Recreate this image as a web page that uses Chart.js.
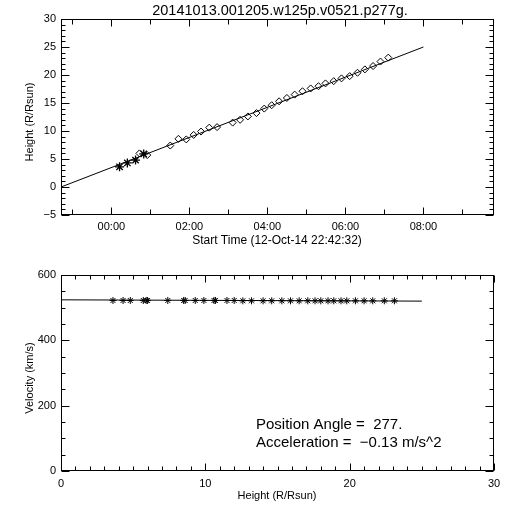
<!DOCTYPE html>
<html><head><meta charset="utf-8">
<script src="https://cdn.jsdelivr.net/npm/chart.js@4.4.1/dist/chart.umd.min.js"></script>
<style>html,body{margin:0;padding:0;background:#fff;}canvas{display:block;background:#fff;}</style>
</head><body>
<canvas id="topChart" width="512" height="256"></canvas>
<canvas id="botChart" width="512" height="256"></canvas>
<script>
// ---------- data ----------
const plotTitle = '20141013.001205.w125p.v0521.p277g.';
const startTimeLabel = 'Start Time (12-Oct-14 22:42:32)';
const heightLabel = 'Height (R/Rsun)';
const velocityLabel = 'Velocity (km/s)';
const positionAngleText = 'Position Angle =  277.';
const accelerationText = 'Acceleration =  \u22120.13 m/s^2';

// hours relative to 13-Oct 00:00
const timeTickValues = [0, 2, 4, 6, 8];
const timeTickLabels = ['00:00', '02:00', '04:00', '06:00', '08:00'];
const heightTickValues = [-5, 0, 5, 10, 15, 20, 25, 30];
const velTickValues = [0, 200, 400, 600];
const radiusTickValues = [0, 10, 20, 30];

// C2 (asterisks)
const c2Times = [0.21, 0.41, 0.62, 0.83];
const c2Heights = [3.6, 4.3, 4.8, 5.9];
// C3 (diamonds)
const c3Times = [0.72, 0.92, 1.51, 1.72, 1.92, 2.11, 2.30, 2.51, 2.71, 3.11, 3.30, 3.50, 3.72, 3.92, 4.11,
                 4.30, 4.50, 4.70, 4.90, 5.11, 5.31, 5.49, 5.70, 5.90, 6.11, 6.31, 6.50, 6.71, 6.90, 7.10];
const c3Heights = [6.0, 5.7, 7.4, 8.6, 8.5, 9.3, 9.9, 10.6, 10.7, 11.5, 12.0, 12.6, 13.2, 14.0, 14.6,
                   15.3, 15.9, 16.5, 17.1, 17.6, 18.0, 18.5, 18.9, 19.4, 19.8, 20.4, 21.0, 21.6, 22.4, 23.1];
// height-time fit
const fitTimes = [-1.29, 8.0];
const fitHeights = [0.0, 25.0];

// velocity at each height
const velValues = [522, 522, 522, 522,
                   522, 522, 522, 522, 522, 522, 522, 522, 522, 522, 522, 521, 521, 521, 521,
                   521, 521, 521, 521, 521, 521, 521, 521, 521, 521, 521, 521, 521, 521, 521];
const velFitHeights = [0, 25];
const velFitValues = [524, 520];

// ---------- helpers ----------
const FONT = "'Liberation Sans', Arial, sans-serif";
const pts = (xs, ys) => xs.map((x, i) => ({x: x, y: ys[i]}));
const allHeights = c2Heights.concat(c3Heights);

function tickList(from, to, step, majorEvery, majLen, minLen) {
  const out = [];
  const n = Math.round((to - from) / step);
  for (let i = 0; i <= n; i++) {
    const v = from + i * step;
    const isMajor = Math.abs(v / majorEvery - Math.round(v / majorEvery)) < 1e-6;
    out.push([v, isMajor ? majLen : minLen]);
  }
  return out;
}

const idlPlugin = {
  id: 'idl',
  afterDraw(chart, args, opts) {
    const ctx = chart.ctx, a = chart.chartArea;
    const xs = chart.scales.x, ys = chart.scales.y;
    ctx.save();
    ctx.strokeStyle = '#000';
    ctx.lineWidth = 1;
    const L = Math.round(a.left) + 0.5, R = Math.round(a.right) - 0.5;
    const T = Math.round(a.top) + 0.5, B = Math.round(a.bottom) - 0.5;
    ctx.strokeRect(L, T, R - L, B - T);
    ctx.beginPath();
    opts.xTicks.forEach(([v, len]) => {
      if (v < xs.min - 1e-9 || v > xs.max + 1e-9) return;
      const px = Math.round(xs.getPixelForValue(v)) + 0.5;
      ctx.moveTo(px, B); ctx.lineTo(px, B - len);
      ctx.moveTo(px, T); ctx.lineTo(px, T + len);
    });
    opts.yTicks.forEach(([v, len]) => {
      if (v < ys.min - 1e-9 || v > ys.max + 1e-9) return;
      const py = Math.round(ys.getPixelForValue(v)) + 0.5;
      ctx.moveTo(L, py); ctx.lineTo(L + len, py);
      ctx.moveTo(R, py); ctx.lineTo(R - len, py);
    });
    ctx.stroke();
    ctx.fillStyle = '#000';
    (opts.texts || []).forEach(t => {
      ctx.save();
      ctx.font = t.font;
      ctx.textAlign = t.align || 'center';
      ctx.textBaseline = 'middle';
      ctx.translate(t.x, t.y);
      if (t.rot) ctx.rotate(t.rot);
      ctx.fillText(t.text, 0, 0);
      ctx.restore();
    });
    ctx.restore();
  }
};

function makeScale(min, max, tickValues, labelFn, isX, fitSize, pad) {
  return {
    type: 'linear', min: min, max: max,
    afterBuildTicks: s => { s.ticks = tickValues.map(v => ({value: v})); },
    afterFit: s => { if (isX) s.height = fitSize; else s.width = fitSize; },
    grid: {display: false, drawTicks: false},
    border: {display: false},
    ticks: {
      color: '#000', font: {family: FONT, size: 11}, padding: pad,
      maxRotation: 0, autoSkip: false,
      callback: labelFn
    }
  };
}

// ---------- top chart ----------
new Chart(document.getElementById('topChart'), {
  type: 'scatter',
  data: {
    datasets: [
      {data: pts(fitTimes, fitHeights), showLine: true, borderColor: '#000', borderWidth: 1, pointRadius: 0},
      {data: pts(c3Times, c3Heights), pointStyle: 'rectRot', pointRadius: 3.5, borderColor: '#000',
       backgroundColor: 'rgba(255,255,255,0)', borderWidth: 1},
      {data: pts(c2Times, c2Heights), pointStyle: 'star', pointRadius: 4.5, borderColor: '#000', borderWidth: 1.3}
    ]
  },
  options: {
    responsive: false, animation: false, events: [],
    layout: {padding: {top: 19, right: 18, left: 0, bottom: 0}},
    plugins: {
      legend: {display: false}, tooltip: {enabled: false},
      idl: {
        xTicks: tickList(-1, 9, 1, 2, 7, 5),
        yTicks: tickList(-5, 30, 1, 5, 8, 4),
        texts: [
          {text: plotTitle, x: 280, y: 11, font: '14.5px ' + FONT},
          {text: startTimeLabel, x: 277, y: 241, font: '12px ' + FONT},
          {text: heightLabel, x: 30, y: 122, font: '11px ' + FONT, rot: -Math.PI / 2}
        ]
      }
    },
    scales: {
      x: makeScale(-1.2911, 9.81, timeTickValues, v => timeTickLabels[timeTickValues.indexOf(v)], true, 41, 5),
      y: makeScale(-5, 30, heightTickValues, v => String(v).replace('-', '\u2212'), false, 61, 5)
    }
  },
  plugins: [idlPlugin]
});

// ---------- bottom chart ----------
new Chart(document.getElementById('botChart'), {
  type: 'scatter',
  data: {
    datasets: [
      {data: pts(velFitHeights, velFitValues), showLine: true, borderColor: '#000', borderWidth: 1, pointRadius: 0},
      {data: pts(allHeights, velValues), pointStyle: 'star', pointRadius: 3.5, borderColor: '#000', borderWidth: 1}
    ]
  },
  options: {
    responsive: false, animation: false, events: [],
    layout: {padding: {top: 19, right: 18, left: 0, bottom: 0}},
    plugins: {
      legend: {display: false}, tooltip: {enabled: false},
      idl: {
        xTicks: tickList(0, 30, 1, 10, 7, 4),
        yTicks: tickList(0, 600, 50, 200, 8, 4),
        texts: [
          {text: velocityLabel, x: 30, y: 122, font: '11px ' + FONT, rot: -Math.PI / 2},
          {text: heightLabel, x: 277, y: 240, font: '11px ' + FONT},
          {text: positionAngleText, x: 256, y: 169, font: '15px ' + FONT, align: 'left'},
          {text: accelerationText, x: 256, y: 187, font: '15px ' + FONT, align: 'left'}
        ]
      }
    },
    scales: {
      x: makeScale(0, 30, radiusTickValues, v => String(v), true, 41, 6),
      y: makeScale(0, 600, velTickValues, v => String(v), false, 61, 5)
    }
  },
  plugins: [idlPlugin]
});
</script>
</body></html>
